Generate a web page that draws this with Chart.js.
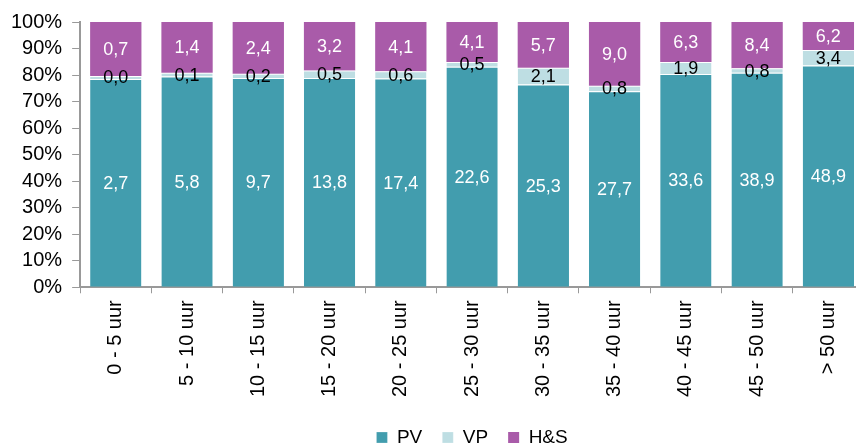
<!DOCTYPE html>
<html>
<head>
<meta charset="utf-8">
<script src="https://cdn.jsdelivr.net/npm/chart.js@4"></script>
<style>
  html, body { margin:0; padding:0; background:#fff; overflow:hidden; }
  #wrap { width:856px; height:445px; overflow:hidden; }
</style>
</head>
<body>
<div id="wrap"><canvas id="chart" width="864" height="445"></canvas></div>
<script>
// categorieën (uren per week) en waarden per groep
const categories = ["0 - 5 uur","5 - 10 uur","10 - 15 uur","15 - 20 uur","20 - 25 uur","25 - 30 uur","30 - 35 uur","35 - 40 uur","40 - 45 uur","45 - 50 uur","> 50 uur"];
const pv  = [2.7, 5.8, 9.7, 13.8, 17.4, 22.6, 25.3, 27.7, 33.6, 38.9, 48.9];
const vp  = [0.04, 0.1, 0.2, 0.5, 0.6, 0.5, 2.1, 0.8, 1.9, 0.8, 3.4];
const hs  = [0.7, 1.4, 2.4, 3.2, 4.1, 4.1, 5.7, 9.0, 6.3, 8.4, 6.2];
const yTicks = [0,10,20,30,40,50,60,70,80,90,100];

const FONT = "'Liberation Sans', Arial, sans-serif";

const totals = categories.map((_,i)=> pv[i] + vp[i] + hs[i]);
const pct = arr => arr.map((v,i)=> v / totals[i] * 100);
const fmt = v => v.toFixed(1).replace(".", ",");

// labels met de absolute waarden midden in elk segment
const valueLabels = {
  id: "valueLabels",
  afterDatasetsDraw(chart){
    const ctx = chart.ctx;
    ctx.save();
    ctx.font = "18px " + FONT;
    ctx.textAlign = "center";
    ctx.textBaseline = "middle";
    chart.data.datasets.forEach((ds, di)=>{
      const meta = chart.getDatasetMeta(di);
      meta.data.forEach((el, i)=>{
        const c = el.getCenterPoint();
        ctx.fillStyle = ds.labelColor;
        ctx.fillText(fmt(ds.raw[i]), c.x, c.y + 1);
      });
    });
    ctx.restore();
  }
};

new Chart(document.getElementById("chart"), {
  type: "bar",
  data: {
    labels: categories,
    datasets: [
      { label:"PV",  raw:pv, data:pct(pv), backgroundColor:"#429DAE", labelColor:"#ffffff",
        borderColor:"#ffffff", borderWidth:{top:1,left:0,right:0,bottom:0}, borderSkipped:false },
      { label:"VP",  raw:vp, data:pct(vp), backgroundColor:"#BEDEE3", labelColor:"#000000",
        borderColor:"#ffffff", borderWidth:{top:1,left:0,right:0,bottom:0}, borderSkipped:false },
      { label:"H&S", raw:hs, data:pct(hs), backgroundColor:"#A95BA9", labelColor:"#ffffff",
        borderColor:"#ffffff", borderWidth:0 }
    ]
  },
  options: {
    responsive:false,
    animation:false,
    layout:{ padding:{ left:1, right:0, top:10, bottom:-12 } },
    scales: {
      x: {
        stacked:true,
        categoryPercentage:1,
        barPercentage:0.70,
        grid:{ drawOnChartArea:false, tickLength:6, color:"#999", offset:true },
        border:{ color:"#999", width:2 },
        ticks:{ autoSkip:false, minRotation:90, maxRotation:90, padding:7, color:"#000",
                font:{ family:FONT, size:20 } }
      },
      y: {
        stacked:true,
        min:0, max:100,
        afterBuildTicks(axis){ axis.ticks = yTicks.map(v=>({ value:v })); },
        grid:{ drawOnChartArea:false, tickLength:8, color:"#999" },
        border:{ color:"#999", width:2 },
        ticks:{ autoSkip:false, padding:10, color:"#000", font:{ family:FONT, size:20 },
                callback: v => v + "%" }
      }
    },
    plugins: {
      legend: {
        position:"bottom",
        fullSize:false,
        title:{ display:true, text:"", padding:0, font:{ size:4, lineHeight:1 } },
        labels:{ boxWidth:11, boxHeight:11, padding:20, color:"#000",
                 font:{ family:FONT, size:19 } }
      },
      tooltip:{ enabled:false }
    }
  },
  plugins:[valueLabels]
});
</script>
</body>
</html>
